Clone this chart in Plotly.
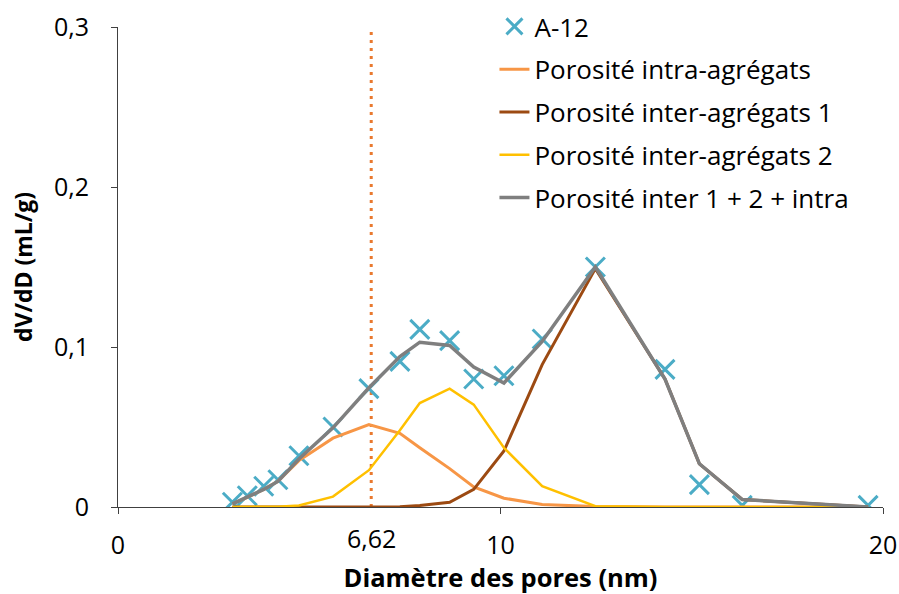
import plotly.graph_objects as go

# Pore diameters (nm) of the measured points
diam = [2.99, 3.38, 3.81, 4.18, 4.73, 5.62, 6.56, 7.37, 7.89, 8.67,
        9.30, 10.09, 11.09, 12.48, 14.30, 15.20, 16.32, 19.61]

# Measured dV/dD for sample A-12 (mL/g)
a12 = [0.003, 0.007, 0.013, 0.017, 0.032, 0.050, 0.074, 0.091, 0.111, 0.104,
       0.080, 0.082, 0.105, 0.150, 0.086, 0.014, 0.001, 0.001]

# Fitted components
intra = [0.002, 0.006, 0.011, 0.016, 0.029, 0.043, 0.0515, 0.046, 0.037, 0.024,
         0.0125, 0.0055, 0.0015, 0.0003, 0.0, 0.0, 0.0, 0.0]
inter1 = [0.0, 0.0, 0.0, 0.0, 0.0, 0.0, 0.0, 0.0002, 0.001, 0.003,
          0.011, 0.035, 0.089, 0.149, 0.080, 0.027, 0.0047, 0.0]
inter2 = [0.0, 0.0, 0.0, 0.0002, 0.001, 0.0065, 0.023, 0.048, 0.065, 0.074,
          0.064, 0.037, 0.013, 0.0005, 0.0, 0.0, 0.0, 0.0]
total = [0.002, 0.006, 0.011, 0.016, 0.030, 0.0495, 0.0745, 0.094, 0.103, 0.101,
         0.0875, 0.0775, 0.1035, 0.150, 0.080, 0.027, 0.0047, 0.0]

# Mode of the intra-aggregate porosity
d_mode = 6.62
d_mode_label = "6,62"

x_ticks = [0, 10, 20]
x_ticktext = ["0", "10", "20"]
y_ticks = [0, 0.1, 0.2, 0.3]
y_ticktext = ["0", "0,1", "0,2", "0,3"]

FONT = "Open Sans"
FS = 25

fig = go.Figure()

fig.add_trace(go.Scatter(
    x=diam, y=a12, mode="markers", name="A-12", legendgroup="a",
    marker=dict(symbol="x-thin", size=19, color="#4BACC6",
                line=dict(color="#4BACC6", width=3)),
))
fig.add_trace(go.Scatter(
    x=diam, y=intra, mode="lines", name="Porosité intra-agrégats", legendgroup="b",
    line=dict(color="#F79646", width=3),
))
fig.add_trace(go.Scatter(
    x=diam, y=inter1, mode="lines", name="Porosité inter-agrégats 1", legendgroup="c",
    line=dict(color="#9C4A12", width=3),
))
fig.add_trace(go.Scatter(
    x=diam, y=inter2, mode="lines", name="Porosité inter-agrégats 2", legendgroup="d",
    line=dict(color="#FFC000", width=2.5),
))
fig.add_trace(go.Scatter(
    x=diam, y=total, mode="lines", name="Porosité inter 1 + 2 + intra", legendgroup="e",
    line=dict(color="#7F7F7F", width=3.5),
))

# Vertical marker at the intra-aggregate mode
fig.add_shape(type="line", xref="x", yref="y", x0=d_mode, x1=d_mode, y0=0, y1=0.3,
              line=dict(color="#E9792F", width=3, dash="3px,5px"), layer="below")
fig.add_annotation(x=d_mode, xref="x", y=0, yref="paper", yshift=-31,
                   yanchor="middle", text=d_mode_label, showarrow=False,
                   font=dict(family=FONT, size=FS, color="#000000"))

fig.update_layout(
    width=899, height=594,
    margin=dict(l=117.5, r=16, t=27, b=86.5, autoexpand=False),
    paper_bgcolor="white", plot_bgcolor="white",
    font=dict(family=FONT, size=FS, color="#000000"),
    showlegend=True,
    legend=dict(x=0.550, y=0.995, xref="container", yref="container",
                xanchor="left", yanchor="top",
                bgcolor="rgba(0,0,0,0)", tracegroupgap=6,
                font=dict(family=FONT, size=26, color="#000000"),
                traceorder="grouped"),
    xaxis=dict(range=[0, 20], tickvals=x_ticks, ticktext=x_ticktext,
               automargin=False,
               showgrid=False, zeroline=False, showline=True,
               linecolor="#404040", linewidth=1, ticks="outside", ticklen=6,
               tickcolor="#404040", ticklabelstandoff=10,
               tickfont=dict(family=FONT, size=FS),
               title=dict(text="<b>Diamètre des pores (nm)</b>", standoff=4,
                          font=dict(family=FONT, size=25.5))),
    yaxis=dict(range=[0, 0.3], tickvals=y_ticks, ticktext=y_ticktext,
               automargin=False,
               showgrid=False, zeroline=False, showline=True,
               linecolor="#404040", linewidth=1, ticks="outside", ticklen=6,
               tickcolor="#404040", ticklabelstandoff=17,
               tickfont=dict(family=FONT, size=FS),
               title=dict(text="<b>dV/dD (mL/g)</b>", standoff=14,
                          font=dict(family=FONT, size=23))),
)

fig.write_html("out.html")
